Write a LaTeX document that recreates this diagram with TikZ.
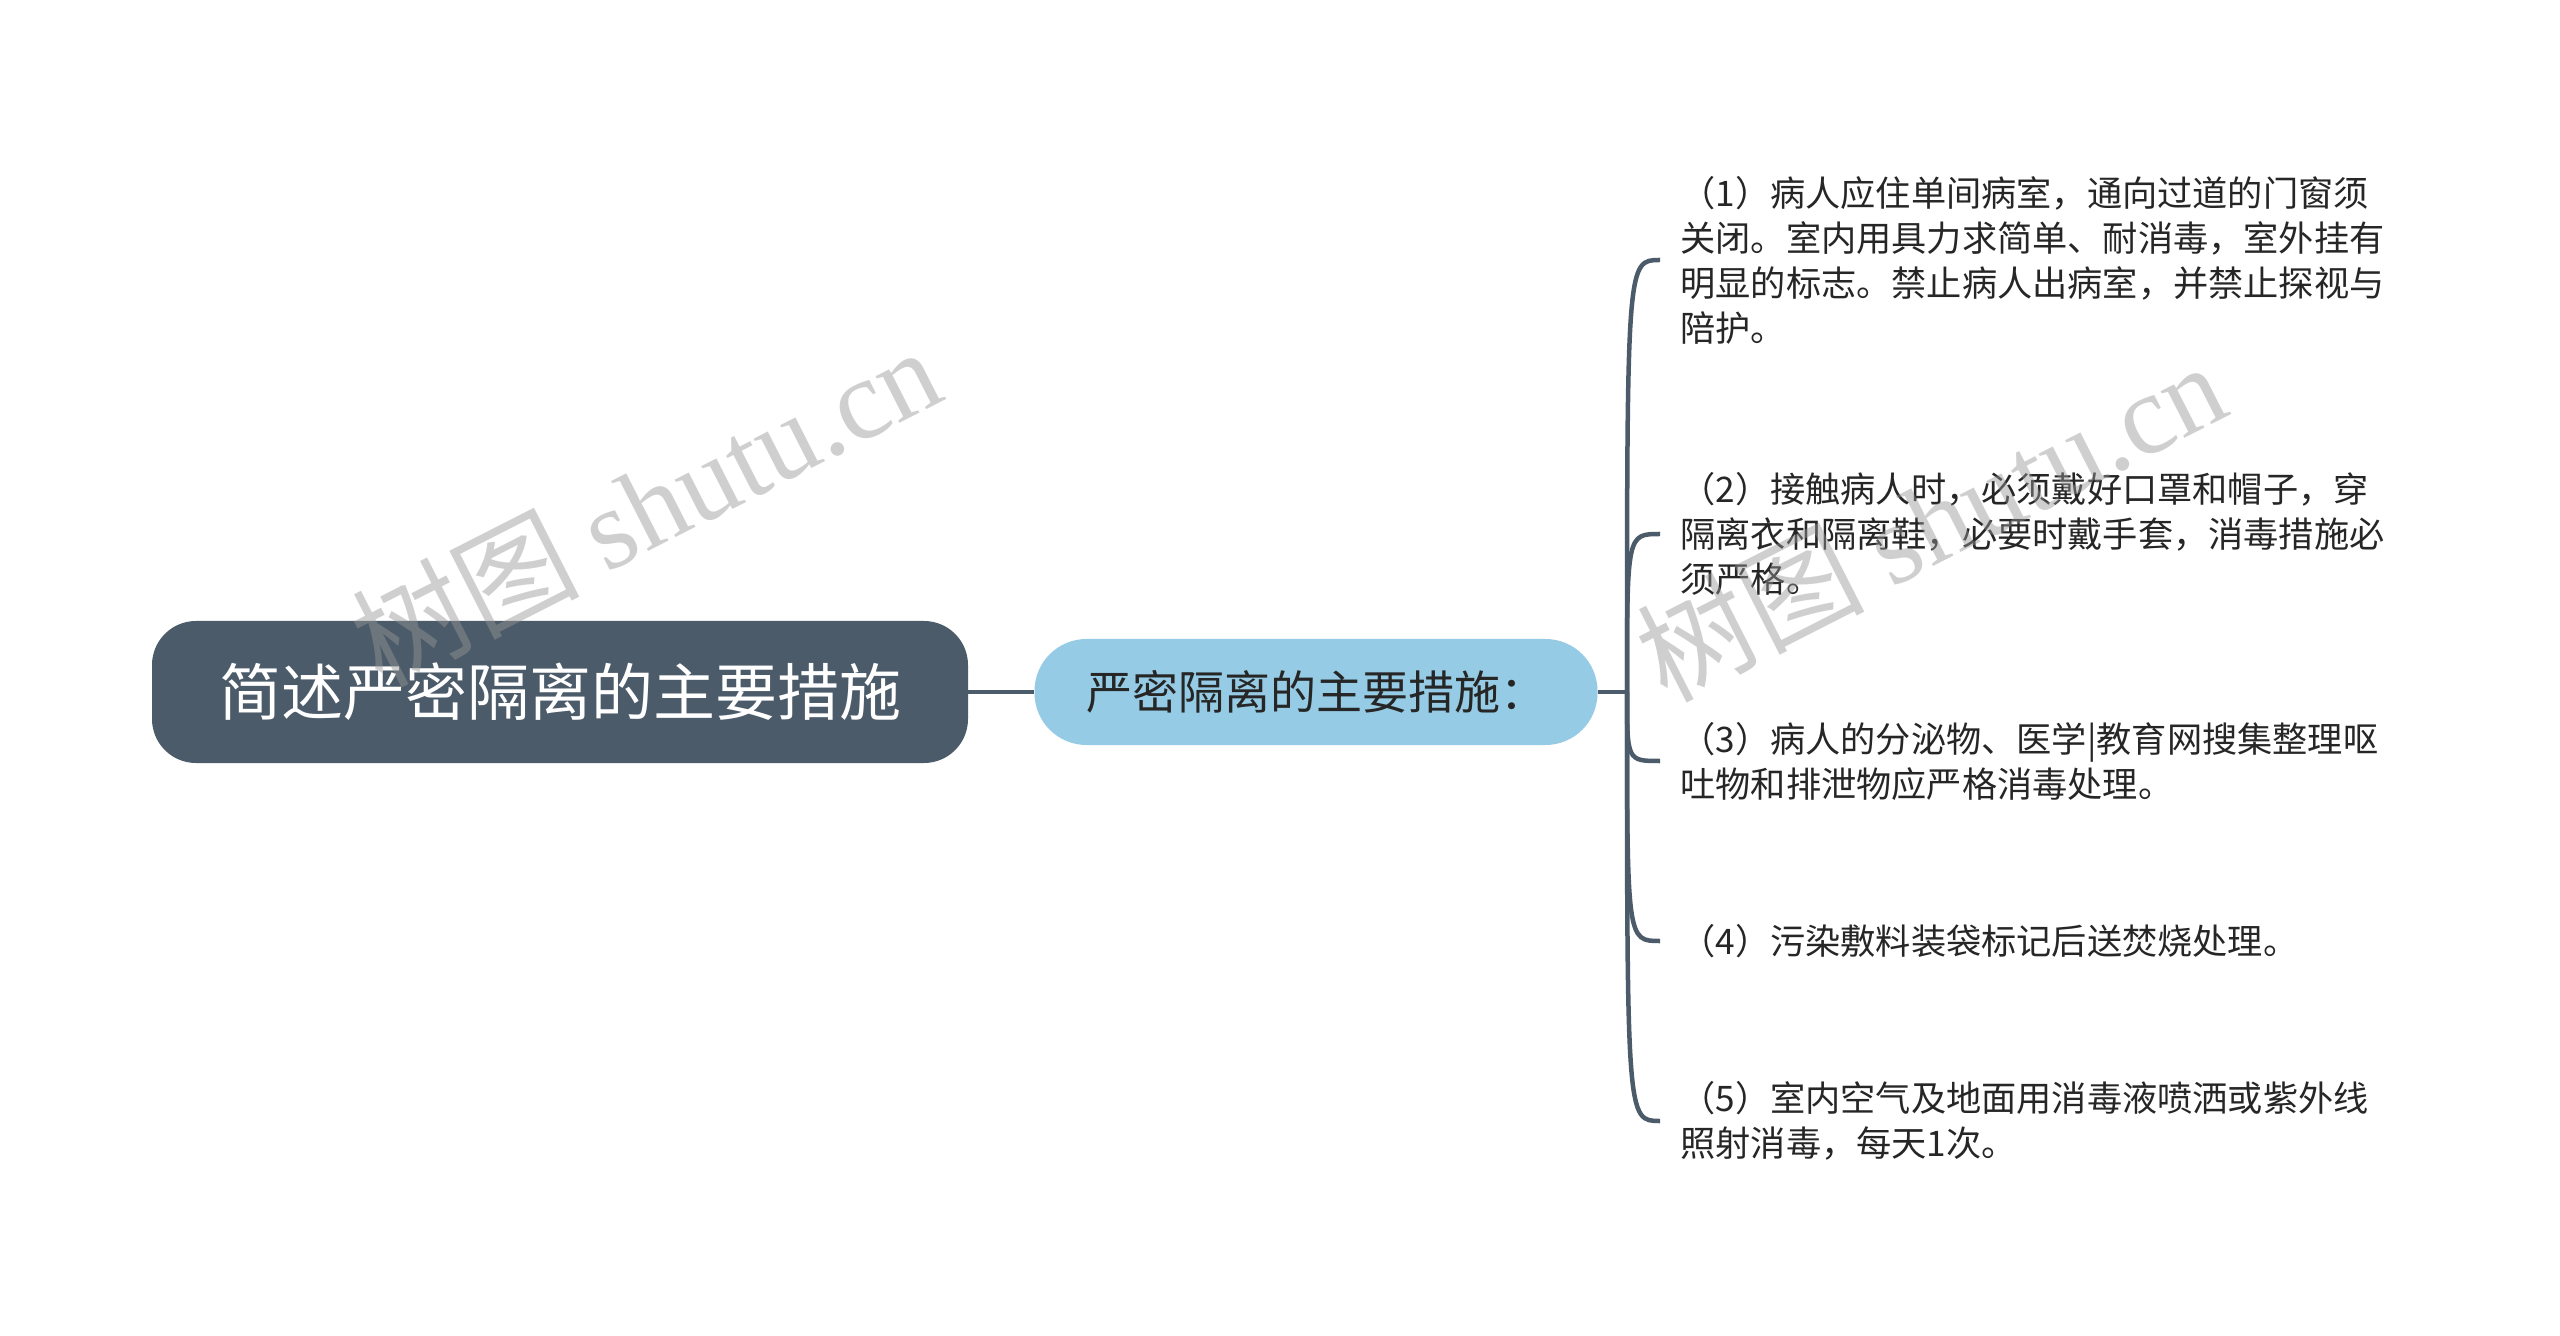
\documentclass[tikz,border=0pt]{standalone}
\usepackage{fontspec}
\setmainfont{Noto Sans CJK SC}
\newfontfamily\wmlatin{Liberation Serif}
\usepackage{tikz}
\usetikzlibrary{calc,positioning}
\usepackage{xcolor}
\definecolor{rootSlate}{RGB}{76, 91, 106}
\definecolor{subBlue}{RGB}{149, 203, 228}
\definecolor{textDark}{RGB}{38, 38, 38}
\definecolor{markGray}{RGB}{150, 150, 150}

\tikzset{
  rootbox/.style={fill=rootSlate, text=white, rounded corners=22pt,
    minimum width=408pt, minimum height=71pt, inner sep=0pt,
    font=\fontsize{31}{36}\selectfont},
  subbox/.style={fill=subBlue, text=textDark, rounded corners=26pt,
    minimum width=281.5pt, minimum height=53pt, inner sep=0pt,
    font=\fontsize{23}{28}\selectfont},
  itembox/.style={anchor=west, align=left, text=textDark,
    inner xsep=10pt, inner ysep=0pt,
    font=\fontsize{17.6}{22.5}\selectfont},
  branch/.style={draw=rootSlate, line width=2.25pt},
  watermark/.style={text=markGray, text opacity=0.45, rotate=27,
    inner sep=0pt, font=\fontsize{57}{57}\selectfont}
}

\begin{document}
\begin{tikzpicture}[x=0.5pt, y=-0.5pt]
    \fill[white] (0, 0) rectangle (2560, 1336);
    \useasboundingbox (0, 0) rectangle (2560, 1336);

    % root and its one child
    \node[rootbox] (root) at (560, 692) {简述严密隔离的主要措施};
    \node[subbox] (measures) at (1316, 692) {严密隔离的主要措施：};
    \coordinate (fork) at (1627, 692);

    % the five measures
    \node[itembox] (m1) at (1660, 260) {（1）病人应住单间病室，通向过道的门窗须\\关闭。室内用具力求简单、耐消毒，室外挂有\\明显的标志。禁止病人出病室，并禁止探视与\\陪护。};
    \node[itembox] (m2) at (1660, 534) {（2）接触病人时，必须戴好口罩和帽子，穿\\隔离衣和隔离鞋，必要时戴手套，消毒措施必\\须严格。};
    \node[itembox] (m3) at (1660, 761) {（3）病人的分泌物、医学|教育网搜集整理呕\\吐物和排泄物应严格消毒处理。};
    \node[itembox] (m4) at (1660, 941) {（4）污染敷料装袋标记后送焚烧处理。};
    \node[itembox] (m5) at (1660, 1121) {（5）室内空气及地面用消毒液喷洒或紫外线\\照射消毒，每天1次。};

    \draw[branch] (root.east) -- (measures.west);
    \draw[branch] (measures.east) -- (fork);
    \foreach \m in {m1, m2, m3, m4, m5}
        \draw[branch] (fork) .. controls (fork |- \m.west) .. (\m.west);

    % watermarks
    \node[watermark] (mark1) at (645, 505) {树图 {\wmlatin shutu.cn}};
    \node[watermark] (mark2) at (1930, 520) {树图 {\wmlatin shutu.cn}};
\end{tikzpicture}
\end{document}
